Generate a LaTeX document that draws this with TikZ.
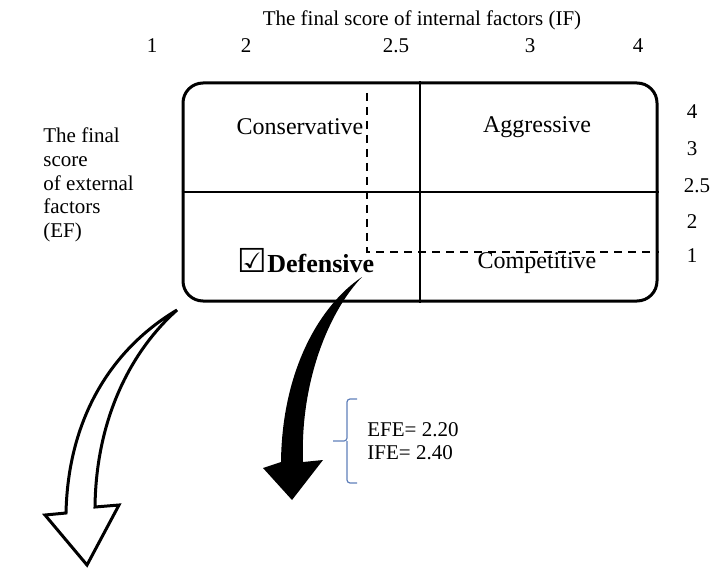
\documentclass[tikz,border=0pt]{standalone}
\usepackage{fontspec}
\setmainfont{Liberation Serif}
\newfontfamily\symbolfont{DejaVu Sans}
\usetikzlibrary{positioning,calc}
\definecolor{bracecolor}{RGB}{96,128,186}
\tikzset{divider/.style={draw, line width=1pt}}

\begin{document}
\begin{tikzpicture}[x=0.5pt,y=-0.5pt]
\tikzstyle{quadrant} = [font=\fontsize{12}{14}\selectfont, inner sep=0pt]
\tikzstyle{score} = [font=\fontsize{10.5}{11.9}\selectfont, inner sep=0pt]
\tikzstyle{bracket} = [draw=bracecolor, line width=0.6pt, rounded corners=1.5pt]
\useasboundingbox (0,0) rectangle (715,571);

% matrix
    % frame
    \node [draw, line width=1.5pt, rounded corners=10pt, minimum width=237pt, minimum height=109pt, inner sep=0pt] (frame) at (420,192) {};
    \coordinate (cut top) at (367,93);
    \coordinate (cut) at (367,252);
    % quadrants
    \node [quadrant] (conservative) at (300,127) {Conservative};
    \node [quadrant] (aggressive) at (537,127) {Aggressive};
    \node [quadrant, font=\fontsize{13}{15}\selectfont\bfseries] (defensive) at (306,261) {{\symbolfont\mdseries\fontsize{16.5}{17}\selectfont ☑}Defensive};
    \node [quadrant] (competitive) at (537,263) {Competitive};
% axes
    % internal factors
    \node [score] (if title) at (422,20) {The final score of internal factors (IF)};
    \node [score] (if1) at (152,46) {1};
    \node [score] (if2) at (246,46) {2};
    \node [score] (if25) at (396,46) {2.5};
    \node [score] (if3) at (530,46) {3};
    \node [score] (if4) at (638,46) {4};
    % external factors
    \node [score, align=left, anchor=west] (ef title) at (43,185) {The final\\score\\of external\\factors\\(EF)};
    \node [score] (ef4) at (692,112) {4};
    \node [score] (ef3) at (692,149) {3};
    \node [score] (ef25) at (697,186) {2.5};
    \node [score] (ef2) at (692,222) {2};
    \node [score] (ef1) at (692,256) {1};
% result
    \node [score, align=left, anchor=west, font=\fontsize{10.5}{11.5}\selectfont] (result) at (367,441) {EFE= 2.20\\IFE= 2.40};
% lines
    \path [divider] (frame.north) -- (frame.south);
    \path [divider] (frame.west) -- (frame.east);
    \path [divider, dash pattern=on 4pt off 3pt] (cut top) -- (cut) -- (cut -| frame.east);
    \path [bracket] ($(result.west)+(-10,-42)$) -| ($(result.west)+(-20,0)$) -- ++(-14,0);
    \path [bracket] ($(result.west)+(-20,0)$) |- ($(result.west)+(-10,42)$);
% arrows
    \fill (362,277) .. controls (320,305) and (282,370) .. (281,462) -- (263,468) -- (292,500) -- (323,460) -- (303,462) .. controls (300,380) and (330,310) .. cycle;
    \draw [line width=1.5pt, fill=white] (177,310) .. controls (110,350) and (68,420) .. (66,513) -- (45,515) -- (87,565) -- (119,505) -- (95,507) .. controls (96,420) and (130,352) .. cycle;
\end{tikzpicture}
\end{document}
